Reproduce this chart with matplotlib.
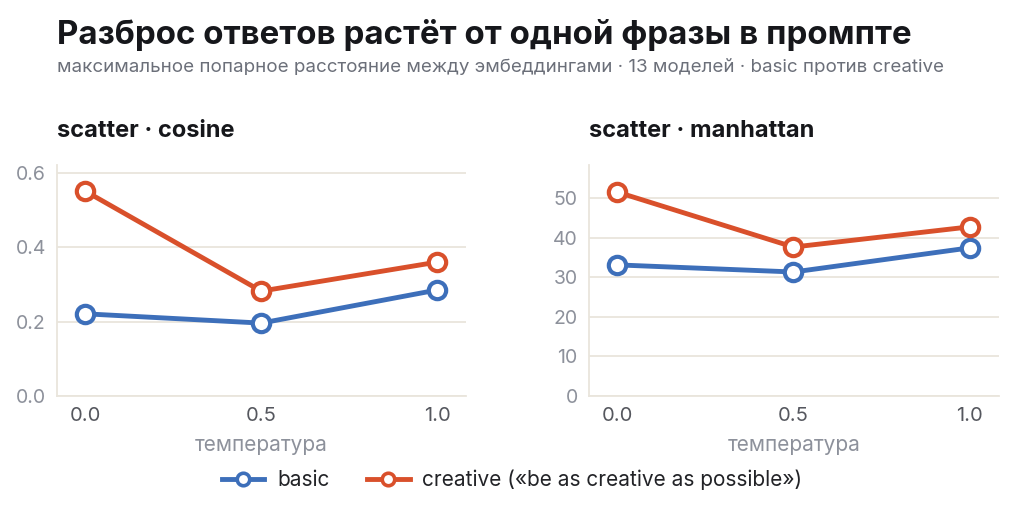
import matplotlib.pyplot as plt
from matplotlib.lines import Line2D

plt.rcParams['font.family'] = ['Inter', 'DejaVu Sans']

# данные
temps = [0.0, 0.5, 1.0]
cosine_basic = [0.221, 0.196, 0.285]
cosine_creative = [0.551, 0.282, 0.360]
manhattan_basic = [33.1, 31.3, 37.4]
manhattan_creative = [51.5, 37.6, 42.7]

BLUE = '#3d6fba'
ORANGE = '#d9502b'
GRID = '#e9e5dc'
YTICK = '#8d919b'
XTICK = '#55575e'

fig = plt.figure(figsize=(10.24, 5.19), dpi=100)
fig.patch.set_facecolor('white')

fig.text(0.0557, 0.915, 'Разброс ответов растёт от одной фразы в промпте',
         fontsize=23.8, fontweight='bold', color='#16171b')
fig.text(0.0557, 0.862, 'максимальное попарное расстояние между эмбеддингами · 13 моделей · basic против creative',
         fontsize=13.5, color='#6b6f79')


def draw_panel(ax, basic, creative, title, ylim, yticks):
    ax.plot(temps, basic, color=BLUE, lw=3.5, marker='o', ms=12.5,
            mfc='white', mec=BLUE, mew=3, zorder=3)
    ax.plot(temps, creative, color=ORANGE, lw=3.5, marker='o', ms=12.5,
            mfc='white', mec=ORANGE, mew=3, zorder=3)
    ax.set_xlim(-0.08, 1.082)
    ax.set_ylim(*ylim)
    ax.set_xticks(temps)
    ax.set_xticklabels(['0.0', '0.5', '1.0'])
    ax.set_yticks(yticks)
    ax.grid(axis='y', color=GRID, lw=1.3)
    ax.set_axisbelow(True)
    for s in ['top', 'right']:
        ax.spines[s].set_visible(False)
    for s in ['left', 'bottom']:
        ax.spines[s].set_color(GRID)
        ax.spines[s].set_linewidth(1.3)
    ax.tick_params(axis='y', length=0, labelsize=14, labelcolor=YTICK, pad=8)
    ax.tick_params(axis='x', length=0, labelsize=14.5, labelcolor=XTICK, pad=8)
    ax.set_xlabel('температура', fontsize=15, color=YTICK, labelpad=7)
    ax.set_title(title, loc='left', fontsize=17, fontweight='bold',
                 color='#16171b', pad=20, x=0.0)


ax1 = fig.add_axes([0.0557, 0.237, 0.3994, 0.445])
draw_panel(ax1, cosine_basic, cosine_creative, 'scatter · cosine',
           (0, 0.621), [0.0, 0.2, 0.4, 0.6])
ax1.set_yticklabels(['0.0', '0.2', '0.4', '0.6'])

ax2 = fig.add_axes([0.575, 0.237, 0.4004, 0.445])
draw_panel(ax2, manhattan_basic, manhattan_creative, 'scatter · manhattan',
           (0, 58.3), [0, 10, 20, 30, 40, 50])

handles = [
    Line2D([], [], color=BLUE, lw=3.5, marker='o', ms=9, mfc='white', mec=BLUE, mew=2.6),
    Line2D([], [], color=ORANGE, lw=3.5, marker='o', ms=9, mfc='white', mec=ORANGE, mew=2.6),
]
fig.legend(handles, ['basic', 'creative («be as creative as possible»)'],
           loc='center', bbox_to_anchor=(0.5, 0.075), ncol=2, frameon=False,
           fontsize=15, handlelength=2.05, handletextpad=0.6, columnspacing=1.8,
           labelcolor='#222327')

fig.savefig('out.png', dpi=100)
